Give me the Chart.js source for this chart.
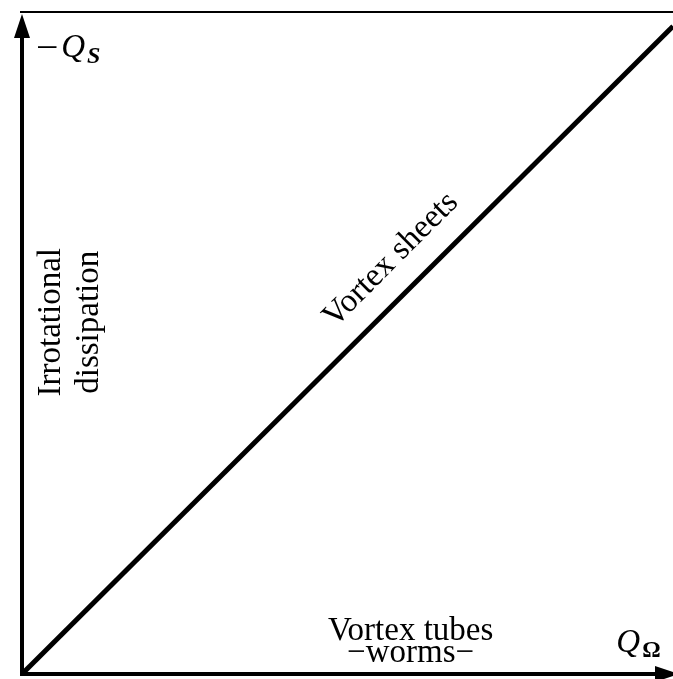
<!DOCTYPE html>
<html lang="en">
<head>
    <meta charset="UTF-8">
    <title>Q-invariant regions</title>
    <script src="https://cdn.jsdelivr.net/npm/chart.js"></script>
    <style>
        body {
            margin: 0;
            background-color: #ffffff;
        }
        canvas {
            display: block;
        }
    </style>
</head>
<body>
    <canvas id="qChart" width="673" height="679"></canvas>

    <script>
        // diagonal -Q_S = Q_Omega (vortex sheets)
        const diagX = [0, 1];
        const diagY = [0, 1];

        const regionLabels = ['Vortex sheets', 'Vortex tubes', '\u2212worms\u2212'];
        const leftLabels = ['Irrotational', 'dissipation'];

        const serif = '"Liberation Serif", "DejaVu Serif", serif';

        // axes, arrows and text drawn on top of the chart area
        const annotations = {
            id: 'annotations',
            afterDraw(chart) {
                const ctx = chart.ctx;
                const a = chart.chartArea;
                const xs = chart.scales.x;
                const ys = chart.scales.y;
                ctx.save();
                ctx.fillStyle = '#000';
                ctx.strokeStyle = '#000';

                // top frame line
                ctx.lineWidth = 2;
                ctx.beginPath();
                ctx.moveTo(a.left - 2, a.top);
                ctx.lineTo(chart.width, a.top);
                ctx.stroke();

                // thick axes
                ctx.lineWidth = 4;
                ctx.beginPath();
                ctx.moveTo(a.left, a.bottom + 2);
                ctx.lineTo(a.left, a.top + 20);
                ctx.moveTo(a.left - 2, a.bottom);
                ctx.lineTo(chart.width - 15, a.bottom);
                ctx.stroke();

                // arrow heads
                ctx.beginPath();
                ctx.moveTo(a.left, a.top + 2);
                ctx.lineTo(a.left - 8, a.top + 26);
                ctx.lineTo(a.left + 8, a.top + 26);
                ctx.closePath();
                ctx.fill();
                ctx.beginPath();
                ctx.moveTo(chart.width + 6, a.bottom);
                ctx.lineTo(chart.width - 18, a.bottom - 8);
                ctx.lineTo(chart.width - 18, a.bottom + 8);
                ctx.closePath();
                ctx.fill();

                ctx.textBaseline = 'alphabetic';

                // -Q_S
                let px = xs.getPixelForValue(0.025);
                let py = ys.getPixelForValue(0.952);
                ctx.textAlign = 'left';
                ctx.font = '36px ' + serif;
                ctx.fillText('\u2013', px, py - 1);
                px += ctx.measureText('\u2013').width + 5;
                ctx.font = 'italic 33px ' + serif;
                ctx.fillText('Q', px, py);
                px += ctx.measureText('Q').width + 2;
                ctx.font = 'bold italic 24px ' + serif;
                ctx.fillText('S', px, py + 6);

                // Q_Omega
                px = xs.getPixelForValue(0.913);
                py = ys.getPixelForValue(0.034);
                ctx.font = 'italic 33px ' + serif;
                ctx.fillText('Q', px, py);
                px += ctx.measureText('Q').width + 2;
                ctx.font = 'bold 23px ' + serif;
                ctx.fillText('\u03a9', px, py + 5);

                // Vortex tubes / worms
                ctx.textAlign = 'center';
                ctx.font = '33px ' + serif;
                px = xs.getPixelForValue(0.597);
                ctx.fillText(regionLabels[1], px, ys.getPixelForValue(0.052));
                ctx.fillText(regionLabels[2], px, ys.getPixelForValue(0.019));

                // Vortex sheets along the diagonal
                ctx.save();
                ctx.translate(xs.getPixelForValue(0.576), ys.getPixelForValue(0.630));
                ctx.rotate(-Math.PI / 4);
                ctx.fillText(regionLabels[0], 0, 0);
                ctx.restore();

                // Irrotational dissipation, vertical
                ctx.save();
                ctx.translate(xs.getPixelForValue(0.059), ys.getPixelForValue(0.543));
                ctx.rotate(-Math.PI / 2);
                ctx.fillText(leftLabels[0], 0, 0);
                ctx.fillText(leftLabels[1], 0, 38);
                ctx.restore();

                ctx.restore();
            }
        };

        new Chart(document.getElementById('qChart').getContext('2d'), {
            type: 'scatter',
            data: {
                datasets: [{
                    data: diagX.map((x, i) => ({ x: x, y: diagY[i] })),
                    showLine: true,
                    borderColor: '#000',
                    borderWidth: 5,
                    pointRadius: 0,
                    fill: false,
                }],
            },
            options: {
                responsive: false,
                animation: false,
                layout: {
                    padding: { left: 22, top: 12, right: 0, bottom: 5 },
                },
                plugins: {
                    legend: { display: false },
                    tooltip: { enabled: false },
                },
                scales: {
                    x: { type: 'linear', display: false, min: 0, max: 1 },
                    y: { type: 'linear', display: false, min: 0, max: 1.022 },
                },
            },
            plugins: [annotations],
        });
    </script>
</body>
</html>
